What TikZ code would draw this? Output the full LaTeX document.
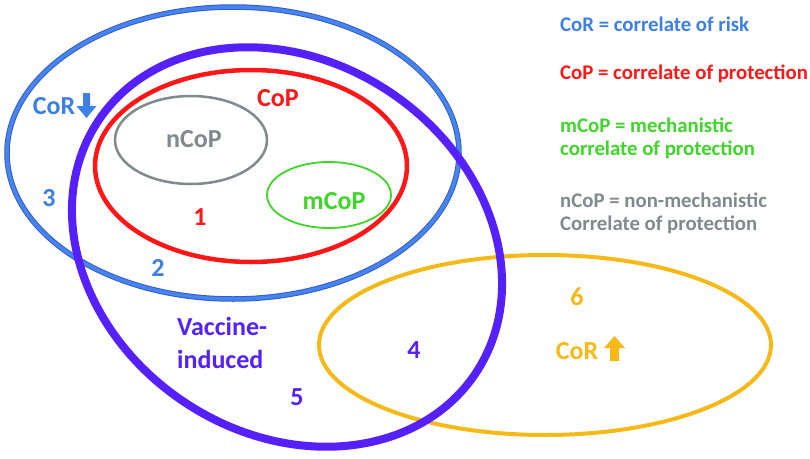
\documentclass[tikz,border=0pt]{standalone}
\usepackage{fontspec}
\setmainfont{Carlito}
\definecolor{cblue}{RGB}{72,132,238}
\definecolor{cblueedge}{RGB}{48,92,205}
\definecolor{cbluetext}{RGB}{60,128,230}
\definecolor{cred}{RGB}{255,22,22}
\definecolor{cgray}{RGB}{127,138,140}
\definecolor{cgreen}{RGB}{62,214,40}
\definecolor{cpurple}{RGB}{86,32,250}
\definecolor{corange}{RGB}{246,186,24}
\begin{document}
\begin{tikzpicture}[x=1pt,y=-1pt,
  lab/.style={font=\fontsize{26}{31}\selectfont\bfseries, inner sep=0pt},
  leg/.style={font=\fontsize{20.8}{24}\selectfont\bfseries, inner sep=0pt, anchor=west}]
\useasboundingbox (0,0) rectangle (810,458);
% orange ellipse
\draw[corange, line width=4pt] (545,345) ellipse [x radius=226, y radius=90];
% blue ellipse with darker edge
\draw[cblueedge, line width=5.5pt] (233,153) ellipse [x radius=226, y radius=146];
\draw[cblue, line width=3.5pt] (233,153) ellipse [x radius=226, y radius=146];
% red ellipse
\draw[cred, line width=4.5pt] (251,166) ellipse [x radius=156, y radius=96];
% gray ellipse
\draw[cgray, line width=2.5pt] (191,140) ellipse [x radius=76, y radius=44];
% green ellipse
\draw[cgreen, line width=1.8pt] (329,195) ellipse [x radius=62, y radius=33];
% purple tilted ellipse
\draw[cpurple, line width=8pt, rotate around={-34:(287,247)}] (287,247) ellipse [x radius=227, y radius=186];

% labels
\node[lab, text=cbluetext] (corl) at (54,106) {CoR};
\fill[cbluetext] (83,93) -- (90,93) -- (90,106) -- (96.5,106) -- (86.5,118) -- (76.5,106) -- (83,106) -- cycle;
\node[lab, text=cred] (cop) at (278,98) {CoP};
\node[lab, text=cgray] (ncop) at (194,139) {nCoP};
\node[lab, text=cgreen] (mcop) at (334,201) {mCoP};
\node[lab, text=cred] (n1) at (200,217) {1};
\node[lab, text=cbluetext] (n3) at (49,198) {3};
\node[lab, text=cbluetext] (n2) at (158,268) {2};
\node[lab, text=cpurple, align=left, anchor=north west, font=\fontsize{26}{33}\selectfont\bfseries] (vac) at (177,317) {Vaccine-\\induced};
\node[lab, text=cpurple] (n5) at (297,397) {5};
\node[lab, text=cpurple] (n4) at (414,350) {4};
\node[lab, text=corange] (n6) at (577,297) {6};
\node[lab, text=corange] (corh) at (577,351) {CoR};
\fill[corange] (610,361) -- (619,361) -- (619,348) -- (625,348) -- (614.5,336) -- (604,348) -- (610,348) -- cycle;

% legend
\node[leg, text=cbluetext] (l1) at (560,24) {CoR = correlate of risk};
\node[leg, text=cred] (l2) at (560,74) {CoP = correlate of protection};
\node[leg, text=cgreen] (l3) at (560,125) {mCoP = mechanistic};
\node[leg, text=cgreen] (l4) at (560,150) {correlate of protection};
\node[leg, text=cgray] (l5) at (560,200) {nCoP = non-mechanistic};
\node[leg, text=cgray] (l6) at (560,225) {Correlate of protection};
\end{tikzpicture}
\end{document}
